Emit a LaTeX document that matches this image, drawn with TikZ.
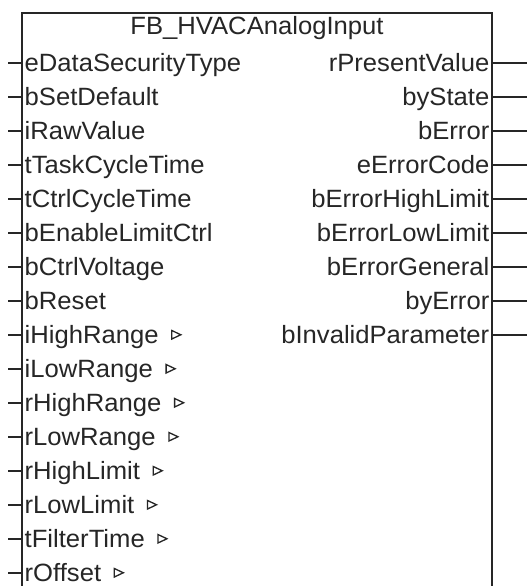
\documentclass[tikz,border=0pt]{standalone}
\usepackage{fontspec}
\setmainfont{Liberation Sans}[FakeStretch=1.025]
\begin{document}
\begin{tikzpicture}[x=1pt,y=1pt,
  boxline/.style={line width=2pt,black!85},
  pin/.style={line width=2pt,black!85},
  inlabel/.style={anchor=base west,inner sep=0pt,font=\fontsize{25}{30}\selectfont,text=black!85},
  outlabel/.style={anchor=base east,inner sep=0pt,font=\fontsize{25}{30}\selectfont,text=black!85},
  titlelabel/.style={anchor=base,inner sep=0pt,font=\fontsize{25}{30}\selectfont,text=black!85},
  tri/.style={line width=1.3pt,black!85,line join=miter}]
\useasboundingbox[fill=white] (0,0) rectangle (527,-586);
% box
\coordinate (tl) at (22,-13);
\coordinate (tr) at (492,-13);
\coordinate (bl) at (22,-590);
\coordinate (br) at (492,-590);
\draw[boxline] (bl) -- (tl) -- (tr) -- (br);
\node[titlelabel] (title) at (257,-35) {FB\_HVACAnalogInput};
% inputs
\foreach \name/\txt/\tri [count=\k from 0] in {
  i0/eDataSecurityType/0, i1/bSetDefault/0, i2/iRawValue/0, i3/tTaskCycleTime/0,
  i4/tCtrlCycleTime/0, i5/bEnableLimitCtrl/0, i6/bCtrlVoltage/0, i7/bReset/0,
  i8/iHighRange/1, i9/iLowRange/1, i10/rHighRange/1, i11/rLowRange/1,
  i12/rHighLimit/1, i13/rLowLimit/1, i14/tFilterTime/1, i15/rOffset/1}{
  \pgfmathsetmacro{\yy}{-(63+34*\k)}
  \coordinate (\name s) at (8,\yy);
  \coordinate (\name e) at (22,\yy);
  \draw[pin] (\name s) -- (\name e);
  \node[inlabel] (\name) at (24.5,\yy-8.5) {\txt};
  \ifnum\tri=1
    \draw[tri] ([xshift=13pt,yshift=4.5pt]\name.base east) -- ++(0,8.5) -- ++(9,-4.25) -- cycle;
  \fi
}
% outputs
\foreach \name/\txt [count=\k from 0] in {
  o0/rPresentValue, o1/byState, o2/bError, o3/eErrorCode, o4/bErrorHighLimit,
  o5/bErrorLowLimit, o6/bErrorGeneral, o7/byError, o8/bInvalidParameter}{
  \pgfmathsetmacro{\yy}{-(63+34*\k)}
  \coordinate (\name s) at (492,\yy);
  \coordinate (\name e) at (527,\yy);
  \draw[pin] (\name s) -- (\name e);
  \node[outlabel] (\name) at (489.5,\yy-8.5) {\txt};
}
\end{tikzpicture}
\end{document}
